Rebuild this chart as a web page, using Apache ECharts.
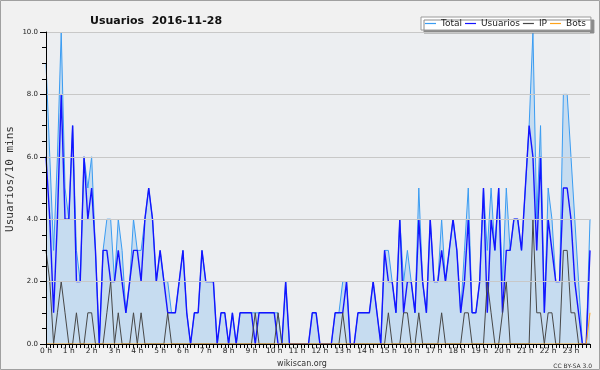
<!DOCTYPE html>
<html><head><meta charset="utf-8">
<script src="https://cdn.jsdelivr.net/npm/echarts@6/dist/echarts.min.js"></script>
<style>html,body{margin:0;padding:0;background:#f1f1f1}#c{width:600px;height:370px}</style>
</head><body><div id="c"></div>
<script>
const hourLabels = ['0 h','1 h','2 h','3 h','4 h','5 h','6 h','7 h','8 h','9 h','10 h','11 h','12 h','13 h','14 h','15 h','16 h','17 h','18 h','19 h','20 h','21 h','22 h','23 h'];
const seriesNames = ['Total','Usuarios','IP','Bots'];
const seriesColors = ['#3a9cf2', '#1414ff', '#474747', '#ffa31a'];
const yTicks = [0, 2, 4, 6, 8, 10];

const total = [
  9,6,3,6,10,5,4,7,3,2,
  6,5,6,3,0,3,4,4,2,4,
  3,1,2,4,3,3,4,5,4,2,
  3,2,2,1,1,2,3,1,0,1,
  1,3,2,2,2,0,1,1,0,1,
  0,1,1,1,1,1,1,1,1,1,
  1,1,0,2,0,0,0,0,0,0,
  1,1,0,0,0,0,1,1,2,2,
  0,0,1,1,1,1,2,1,0,3,
  3,2,1,4,2,3,2,1,5,2,
  1,4,2,2,4,2,3,4,3,1,
  3,5,1,1,2,5,3,5,3,5,
  2,5,3,4,4,3,5,7,10,4,
  7,1,5,4,2,2,8,8,6,4,
  2,0,0,4];
const users = [
  6,4,1,4,8,4,4,7,2,2,
  6,4,5,3,0,3,3,2,2,3,
  2,1,2,3,3,2,4,5,4,2,
  3,2,1,1,1,2,3,1,0,1,
  1,3,2,2,2,0,1,1,0,1,
  0,1,1,1,1,0,1,1,1,1,
  1,0,0,2,0,0,0,0,0,0,
  1,1,0,0,0,0,1,1,1,2,
  0,0,1,1,1,1,2,1,0,3,
  2,2,1,4,1,2,2,1,4,2,
  1,4,2,2,3,2,3,4,3,1,
  2,4,1,1,2,5,1,4,3,5,
  1,3,3,4,4,3,5,7,6,3,
  6,1,4,3,2,2,5,5,4,2,
  1,0,0,3];
const ip = [
  3,2,0,1,2,1,0,0,1,0,
  0,1,1,0,0,0,1,2,0,1,
  0,0,0,1,0,1,0,0,0,0,
  0,0,1,0,0,0,0,0,0,0,
  0,0,0,0,0,0,0,0,0,0,
  0,0,0,0,0,1,0,0,0,0,
  0,1,0,0,0,0,0,0,0,0,
  0,0,0,0,0,0,0,0,1,0,
  0,0,0,0,0,0,0,0,0,0,
  1,0,0,0,1,1,0,0,1,0,
  0,0,0,0,1,0,0,0,0,0,
  1,1,0,0,0,0,2,1,0,0,
  1,2,0,0,0,0,0,0,4,1,
  1,0,1,1,0,0,3,3,1,1,
  0,0,0,0];
const bots = [
  0,0,0,0,0,0,0,0,0,0,
  0,0,0,0,0,0,0,0,0,0,
  0,0,0,0,0,0,0,0,0,0,
  0,0,0,0,0,0,0,0,0,0,
  0,0,0,0,0,0,0,0,0,0,
  0,0,0,0,0,0,0,0,0,0,
  0,0,0,0,0,0,0,0,0,0,
  0,0,0,0,0,0,0,0,0,0,
  0,0,0,0,0,0,0,0,0,0,
  0,0,0,0,0,0,0,0,0,0,
  0,0,0,0,0,0,0,0,0,0,
  0,0,0,0,0,0,0,0,0,0,
  0,0,0,0,0,0,0,0,0,0,
  0,0,0,0,0,0,0,0,0,0,
  0,0,0,1];

// one category per 10-minute slot
const slots = total.map((_, i) => String(i));

const FONT = 'DejaVu Sans';
const chart = echarts.init(document.getElementById('c'), null, {renderer: 'canvas'});
const lineSeries = (idx, data, width, extra) => Object.assign({
  name: seriesNames[idx], type: 'line', data, showSymbol: false, symbol: 'none',
  lineStyle: {color: seriesColors[idx], width}, itemStyle: {color: seriesColors[idx]}, animation: false
}, extra || {});

chart.setOption({
  animation: false,
  backgroundColor: '#f1f1f1',
  title: {
    text: 'Usuarios  2016-11-28', left: 85, top: 11,
    textStyle: {fontFamily: FONT, fontSize: 11, fontWeight: 'bold', color: '#111'}
  },
  legend: {
    data: seriesNames.map((n, i) => ({name: n, icon: 'rect',
      itemStyle: {color: seriesColors[i], borderWidth: 0}})),
    left: 421, top: 17, orient: 'horizontal',
    itemWidth: 11, itemHeight: 1.2, itemGap: 3,
    padding: [2, 5, 2, 4],
    backgroundColor: '#ffffff', borderColor: '#9a9a9a', borderWidth: 1,
    shadowColor: '#8a8a8a', shadowBlur: 0, shadowOffsetX: 3, shadowOffsetY: 3,
    textStyle: {fontFamily: FONT, fontSize: 9, color: '#222'}
  },
  grid: {left: 46, right: 10, top: 32, bottom: 26, show: true,
         backgroundColor: '#eceef1', borderWidth: 0},
  xAxis: {
    type: 'category', data: slots, boundaryGap: false, z: 10,
    axisLine: {lineStyle: {color: '#000', width: 1}},
    axisTick: {show: true, interval: 0, length: 4, lineStyle: {color: '#000'}},
    axisLabel: {interval: 5, margin: 3, fontFamily: FONT, fontSize: 7.5, color: '#222',
      formatter: (v, i) => hourLabels[Math.floor(i / 6)]},
    splitLine: {show: false}
  },
  yAxis: {
    type: 'value', min: yTicks[0], max: yTicks[yTicks.length - 1], interval: 2, z: 10,
    axisLine: {show: true, lineStyle: {color: '#000', width: 1}},
    axisTick: {show: true, length: 6, lineStyle: {color: '#000'}},
    minorTick: {show: true, splitNumber: 4, length: 4, lineStyle: {color: '#000'}},
    splitLine: {show: true, lineStyle: {color: '#c8c8c8', width: 1}},
    axisLabel: {margin: 8, fontFamily: FONT, fontSize: 7, color: '#222',
      formatter: v => v.toFixed(1)}
  },
  graphic: [
    {type: 'rect', shape: {x: 0.5, y: 0.5, width: 599, height: 369}, silent: true, z: -1,
     style: {fill: 'none', stroke: '#a0a0a0', lineWidth: 1}},
    {type: 'text', x: 10, y: 179, rotation: Math.PI / 2, silent: true,
     style: {text: 'Usuarios/10 mins', font: '11px "DejaVu Sans Mono"', fill: '#333',
             textAlign: 'center', textVerticalAlign: 'middle'}},
    {type: 'text', x: 302, y: 364, silent: true,
     style: {text: 'wikiscan.org', font: '8px "DejaVu Sans"', fill: '#333',
             textAlign: 'center', textVerticalAlign: 'middle'}},
    {type: 'text', x: 592, y: 366, silent: true,
     style: {text: 'CC BY-SA 3.0', font: '6px "DejaVu Sans"', fill: '#333',
             textAlign: 'right', textVerticalAlign: 'middle'}}
  ],
  series: [
    lineSeries(0, total, 1, {areaStyle: {color: '#c6dcf0', opacity: 1}}),
    lineSeries(1, users, 1.4),
    lineSeries(2, ip, 1),
    lineSeries(3, bots, 1)
  ]
});
</script></body></html>
